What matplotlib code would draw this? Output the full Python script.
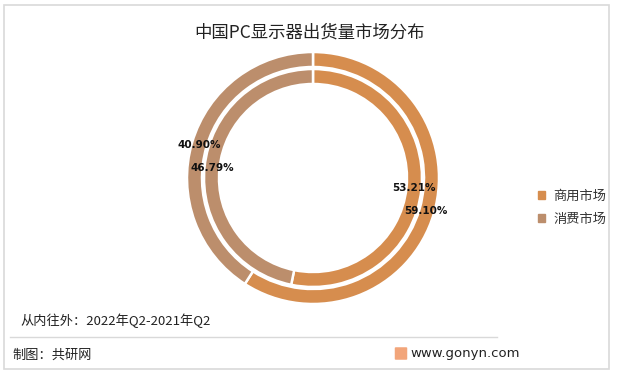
import matplotlib
matplotlib.use("Agg")
import matplotlib.pyplot as plt
from matplotlib.patches import Rectangle, FancyBboxPatch
from matplotlib.lines import Line2D

plt.rcParams['font.family'] = ['Noto Sans CJK SC', 'DejaVu Sans']

title = "中国PC显示器出货量市场分布"
categories = ["商用市场", "消费市场"]
inner_vals = [53.21, 46.79]   # 2022年Q2
outer_vals = [59.10, 40.90]   # 2021年Q2
colors = ["#D68D4E", "#BC8E6C"]
note = "从内往外：2022年Q2-2021年Q2"
source = "制图：共研网"
site = "www.gonyn.com"

W, H = 620, 378
fig = plt.figure(figsize=(W/100, H/100), dpi=100)

# frame
fig.patches.append(Rectangle((4/W, 1-369/H), 605/W, 364/H, transform=fig.transFigure,
                             fill=False, edgecolor="#D9D9D9", linewidth=1.2))
# separator
fig.add_artist(Line2D([10/W, 497/W], [1-337/H, 1-337/H], transform=fig.transFigure,
                      color="#D9D9D9", linewidth=1))

cx, cy, R = 313, 178, 126
half = 132
ax = fig.add_axes([(cx-half)/W, (H-cy-half)/H, 2*half/W, 2*half/H])
w = 15/R
wp = dict(width=w, edgecolor="white", linewidth=1.8)
ax.pie(outer_vals, radius=1.0, startangle=90, counterclock=False, colors=colors,
       wedgeprops=wp, autopct="%.2f%%", pctdistance=1-w/2*1.05,
       textprops=dict(fontsize=7.5, fontweight='bold', color="#111111", family=['DejaVu Sans']))
r2 = 109/R
ax.pie(inner_vals, radius=r2, startangle=90, counterclock=False, colors=colors,
       wedgeprops=wp, autopct="%.2f%%", pctdistance=(r2-w/2)/r2,
       textprops=dict(fontsize=7.5, fontweight='bold', color="#111111", family=['DejaVu Sans']))
ax.set_xlim(-half/R, half/R)
ax.set_ylim(-half/R, half/R)
ax.set_aspect('auto')
ax.axis('off')

fig.text(310/W, 1-33/H, title, ha='center', va='center', fontsize=12.5, color="#222222")

handles = [Rectangle((0, 0), 1, 1, color=c) for c in colors]
fig.legend(handles, categories, loc='center left', bbox_to_anchor=(526/W, 1-208/H),
           frameon=False, fontsize=9.5, handlelength=0.55, handleheight=0.55,
           handletextpad=0.6, labelspacing=0.75, labelcolor="#333333")

fig.text(20/W, 1-321/H, note, ha='left', va='center', fontsize=9.5, color="#222222")
fig.text(12/W, 1-355/H, source, ha='left', va='center', fontsize=9.5, color="#222222")
fig.text(410/W, 1-354/H, site, ha='left', va='center', fontsize=9.5, color="#222222",
         family=['DejaVu Sans'])
fig.patches.append(FancyBboxPatch((396/W, 1-359/H), 10/W, 11/H, transform=fig.transFigure,
                                  boxstyle="round,pad=0.002", facecolor="#F2A57A",
                                  edgecolor="none"))

fig.savefig("out.png", dpi=100)
